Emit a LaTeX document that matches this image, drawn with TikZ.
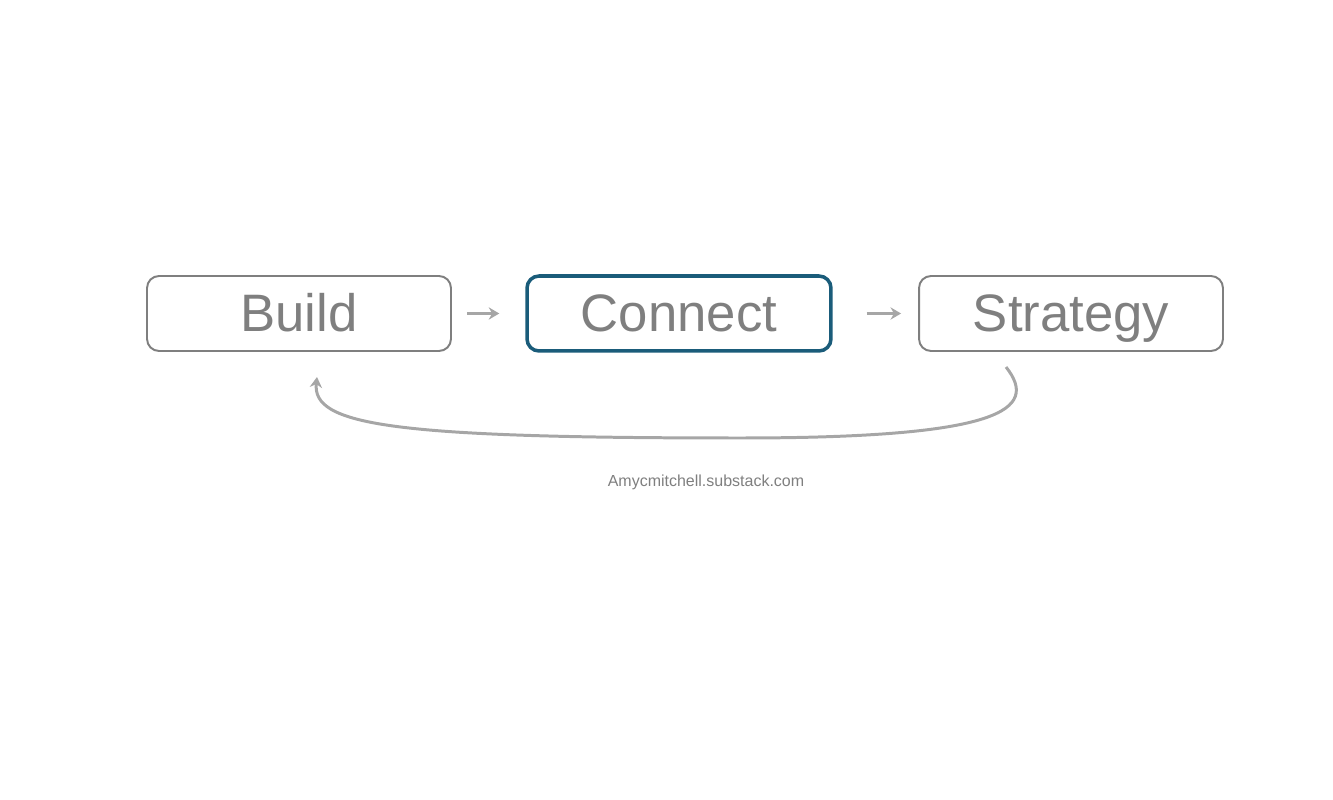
\documentclass[tikz,border=0pt]{standalone}
\usepackage{fontspec}
\setmainfont{Liberation Sans}
\usepackage{tikz}
\usetikzlibrary{arrows.meta,positioning,calc}
\definecolor{labelgray}{HTML}{7F7F7F}
\definecolor{arrowgray}{HTML}{A6A6A6}
\definecolor{connectblue}{HTML}{1A5C7A}

\begin{document}
\begin{tikzpicture}[x=0.02cm,y=-0.02cm,
  stage/.style={draw=labelgray,line width=1.1pt,rounded corners=0.24cm,minimum width=6.08cm,minimum height=1.5cm,text=labelgray,text height=21pt,text depth=0pt,font=\fontsize{30}{36}\selectfont},
  flow/.style={draw=arrowgray,line width=1.4pt,-{Stealth[length=6pt,width=7pt]}}]
\useasboundingbox (0,0) rectangle (1333,800);
\node[stage] (build) at (299,313.5) {Build};
\node[stage,draw=connectblue,line width=2pt] (connect) at (679,313.5) {Connect};
\node[stage] (strategy) at (1071,313.5) {Strategy};
\coordinate (b1) at ($(build.east)+(15,0)$);
\coordinate (b2) at ($(connect.west)+(-26,0)$);
\draw[flow] (b1) to (b2);
\coordinate (c1) at ($(connect.east)+(34,0)$);
\coordinate (c2) at ($(strategy.west)+(-17,0)$);
\draw[flow] (c1) to (c2);
% loop back
\coordinate (loopstart) at (1006,367);
\coordinate (loopend) at (317,377);
\coordinate (loopmid) at (740,438);
\draw[flow,line width=1.7pt] (loopstart) .. controls (1040,410) and (1000,438) .. (loopmid) .. controls (390,438) and (312,425) .. (loopend);
\node[text=labelgray,font=\fontsize{9.1}{11}\selectfont] (site) at (706,482) {Amycmitchell.substack.com};
\end{tikzpicture}
\end{document}
